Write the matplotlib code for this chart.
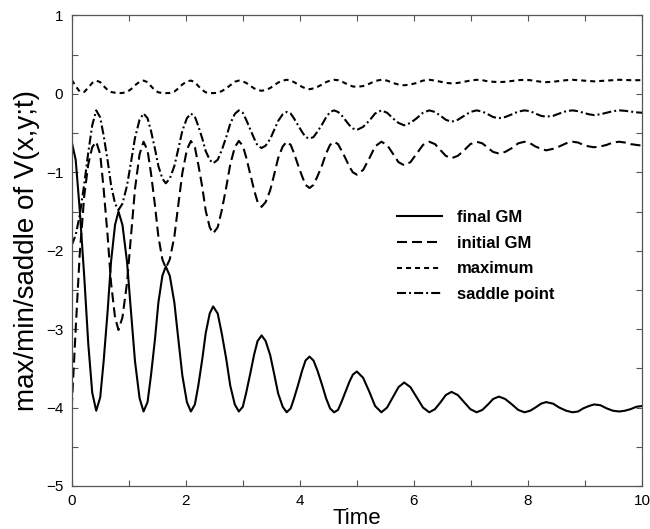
import matplotlib
matplotlib.use("Agg")
import matplotlib.pyplot as plt
from matplotlib.ticker import FixedLocator, FuncFormatter

plt.rcParams['font.family'] = ['Liberation Sans', 'DejaVu Sans']
plt.rcParams['lines.scale_dashes'] = False

time = [0.00, 0.07, 0.14, 0.22, 0.29, 0.36, 0.43,
        0.50, 0.56, 0.63, 0.69, 0.76, 0.82,
        0.89, 0.97, 1.04, 1.11, 1.19, 1.26,
        1.33, 1.39, 1.46, 1.52, 1.59, 1.65,
        1.72, 1.80, 1.87, 1.94, 2.02, 2.09,
        2.16, 2.22, 2.29, 2.35, 2.42, 2.48,
        2.56, 2.63, 2.71, 2.78, 2.86, 2.93,
        3.00, 3.06, 3.13, 3.20, 3.26, 3.33,
        3.40, 3.48, 3.55, 3.62, 3.70, 3.77,
        3.84, 3.90, 3.97, 4.04, 4.10, 4.17,
        4.24, 4.31, 4.39, 4.46, 4.53, 4.60,
        4.67, 4.73, 4.80, 4.87, 4.93, 5.00,
        5.11, 5.22, 5.32, 5.43,
        5.53, 5.63, 5.73, 5.83,
        5.94, 6.05, 6.16, 6.27,
        6.37, 6.47, 6.56, 6.66,
        6.77, 6.88, 6.99, 7.10,
        7.20, 7.30, 7.39, 7.49,
        7.60, 7.72, 7.83, 7.94,
        8.04, 8.13, 8.23, 8.32,
        8.44, 8.55, 8.67, 8.78,
        8.88, 8.97, 9.07, 9.16,
        9.27, 9.38, 9.49, 9.60,
        9.70, 9.80, 9.90, 10.00]

final_gm = [-0.61, -0.84, -1.47, -2.33, -3.18, -3.81, -4.04,
            -3.87, -3.41, -2.77, -2.14, -1.67, -1.50,
            -1.67, -2.14, -2.78, -3.41, -3.88, -4.05,
            -3.93, -3.59, -3.13, -2.66, -2.32, -2.20,
            -2.32, -2.66, -3.13, -3.59, -3.93, -4.05,
            -3.96, -3.72, -3.38, -3.05, -2.80, -2.71,
            -2.80, -3.05, -3.38, -3.72, -3.96, -4.05,
            -3.99, -3.81, -3.57, -3.32, -3.15, -3.08,
            -3.15, -3.33, -3.57, -3.82, -3.99, -4.06,
            -4.01, -3.88, -3.71, -3.53, -3.40, -3.35,
            -3.40, -3.53, -3.71, -3.88, -4.01, -4.06,
            -4.03, -3.93, -3.80, -3.67, -3.58, -3.54,
            -3.62, -3.80, -3.98, -4.06,
            -4.00, -3.87, -3.74, -3.68,
            -3.74, -3.87, -4.00, -4.06,
            -4.02, -3.93, -3.84, -3.80,
            -3.84, -3.93, -4.02, -4.06,
            -4.03, -3.96, -3.89, -3.86,
            -3.89, -3.96, -4.03, -4.06,
            -4.04, -4.00, -3.95, -3.93,
            -3.95, -4.00, -4.04, -4.06,
            -4.05, -4.01, -3.98, -3.96,
            -3.97, -4.01, -4.04, -4.05,
            -4.04, -4.02, -3.99, -3.98]

initial_gm = [-4.00, -3.00, -2.05, -1.30, -0.90, -0.68, -0.61,
              -0.77, -1.21, -1.81, -2.41, -2.85, -3.01,
              -2.85, -2.41, -1.81, -1.21, -0.77, -0.61,
              -0.72, -1.01, -1.42, -1.82, -2.11, -2.22,
              -2.11, -1.82, -1.41, -1.01, -0.71, -0.60,
              -0.68, -0.90, -1.19, -1.49, -1.70, -1.78,
              -1.70, -1.49, -1.19, -0.90, -0.68, -0.60,
              -0.66, -0.81, -1.02, -1.23, -1.38, -1.44,
              -1.38, -1.23, -1.03, -0.82, -0.67, -0.61,
              -0.65, -0.76, -0.91, -1.05, -1.16, -1.20,
              -1.16, -1.05, -0.91, -0.76, -0.65, -0.61,
              -0.64, -0.72, -0.82, -0.93, -1.00, -1.03,
              -0.97, -0.82, -0.67, -0.61,
              -0.65, -0.76, -0.87, -0.91,
              -0.87, -0.76, -0.65, -0.61,
              -0.64, -0.72, -0.79, -0.82,
              -0.79, -0.72, -0.64, -0.61,
              -0.63, -0.69, -0.74, -0.76,
              -0.74, -0.69, -0.63, -0.61,
              -0.63, -0.67, -0.70, -0.72,
              -0.70, -0.67, -0.63, -0.61,
              -0.62, -0.65, -0.67, -0.68,
              -0.67, -0.65, -0.62, -0.61,
              -0.62, -0.64, -0.65, -0.66]

maximum = [0.18, 0.10, 0.03, 0.025, 0.08, 0.14, 0.17,
           0.15, 0.10, 0.05, 0.025, 0.015, 0.01,
           0.012, 0.025, 0.06, 0.11, 0.155, 0.17,
           0.15, 0.10, 0.045, 0.02, 0.012, 0.01,
           0.012, 0.03, 0.07, 0.12, 0.16, 0.17,
           0.15, 0.10, 0.05, 0.02, 0.012, 0.01,
           0.015, 0.035, 0.07, 0.11, 0.155, 0.17,
           0.16, 0.14, 0.105, 0.07, 0.05, 0.04,
           0.05, 0.075, 0.11, 0.145, 0.17, 0.18,
           0.17, 0.15, 0.12, 0.09, 0.07, 0.06,
           0.07, 0.09, 0.12, 0.15, 0.17, 0.18,
           0.175, 0.16, 0.135, 0.11, 0.095, 0.09,
           0.10, 0.13, 0.165, 0.18,
           0.17, 0.14, 0.12, 0.11,
           0.12, 0.14, 0.17, 0.18,
           0.17, 0.155, 0.14, 0.135,
           0.14, 0.155, 0.17, 0.18,
           0.175, 0.16, 0.155, 0.15,
           0.155, 0.165, 0.175, 0.18,
           0.175, 0.165, 0.155, 0.15,
           0.155, 0.165, 0.175, 0.18,
           0.175, 0.17, 0.165, 0.16,
           0.165, 0.17, 0.175, 0.18,
           0.178, 0.175, 0.175, 0.175]

saddle = [-1.93, -1.80, -1.55, -1.15, -0.75, -0.40, -0.21,
          -0.30, -0.53, -0.85, -1.16, -1.40, -1.48,
          -1.40, -1.17, -0.87, -0.56, -0.33, -0.25,
          -0.31, -0.47, -0.70, -0.92, -1.08, -1.14,
          -1.08, -0.92, -0.70, -0.47, -0.31, -0.25,
          -0.29, -0.41, -0.57, -0.73, -0.84, -0.885,
          -0.84, -0.72, -0.55, -0.38, -0.255, -0.21,
          -0.24, -0.33, -0.45, -0.57, -0.66, -0.69,
          -0.66, -0.575, -0.46, -0.345, -0.26, -0.23,
          -0.25, -0.315, -0.40, -0.485, -0.55, -0.57,
          -0.55, -0.48, -0.39, -0.30, -0.23, -0.21,
          -0.23, -0.27, -0.335, -0.40, -0.44, -0.46,
          -0.42, -0.34, -0.25, -0.21,
          -0.24, -0.31, -0.37, -0.40,
          -0.37, -0.31, -0.24, -0.21,
          -0.23, -0.28, -0.33, -0.355,
          -0.33, -0.28, -0.23, -0.21,
          -0.225, -0.26, -0.295, -0.31,
          -0.295, -0.26, -0.225, -0.21,
          -0.22, -0.25, -0.28, -0.29,
          -0.28, -0.25, -0.22, -0.21,
          -0.22, -0.24, -0.26, -0.27,
          -0.26, -0.24, -0.22, -0.21,
          -0.215, -0.225, -0.235, -0.24]

labels = ['final GM', 'initial GM', 'maximum', 'saddle point']
x_ticks = [0, 1, 2, 3, 4, 5, 6, 7, 8, 9, 10]
x_labeled = [0, 2, 4, 6, 8, 10]
y_ticks = [-5, -4.5, -4, -3.5, -3, -2.5, -2, -1.5, -1, -0.5, 0, 0.5, 1]
y_labeled = [-5, -4, -3, -2, -1, 0, 1]

fig = plt.figure(figsize=(6.5, 5.29), dpi=100)
ax = fig.add_axes([0.1103, 0.0813, 0.8774, 0.8894])

lw = 1.5
ax.plot(time, final_gm, color='black', lw=lw, linestyle='-', label=labels[0])
ax.plot(time, initial_gm, color='black', lw=lw, dashes=(7.2, 3.6), label=labels[1])
ax.plot(time, maximum, color='black', lw=lw, dashes=(3.6, 2.9), label=labels[2])
ax.plot(time, saddle, color='black', lw=lw, dashes=(6.5, 2.2, 1.4, 2.2), label=labels[3])

ax.set_xlim(0, 10)
ax.set_ylim(-5, 1)
ax.xaxis.set_major_locator(FixedLocator(x_ticks))
ax.yaxis.set_major_locator(FixedLocator(y_ticks))
ax.xaxis.set_major_formatter(FuncFormatter(
    lambda v, p: (f"{int(round(v))}" if abs(v - round(v)) < 1e-6 and round(v) in x_labeled else "")))
ax.yaxis.set_major_formatter(FuncFormatter(
    lambda v, p: (f"{int(round(v))}".replace('-', '\u2212') if abs(v - round(v)) < 1e-6 and round(v) in y_labeled else "")))

axis_col = '#555555'
for s in ax.spines.values():
    s.set_color(axis_col)
    s.set_linewidth(0.9)
ax.tick_params(direction='in', length=4, width=0.8, color=axis_col,
               top=True, right=True, labelsize=11, pad=6, labelcolor='black')

ax.set_xlabel('Time', fontsize=16)
ax.xaxis.set_label_coords(0.5, -0.046)
ax.set_ylabel('max/min/saddle of V(x,y;t)', fontsize=20)
ax.yaxis.set_label_coords(-0.056, 0.5)

leg = ax.legend(loc='upper left', bbox_to_anchor=(0.57, 0.587), frameon=False,
                borderpad=0, borderaxespad=0, handlelength=2.7, handletextpad=0.9,
                labelspacing=0.65, prop={'weight': 'bold', 'size': 12})

fig.savefig('out.png', dpi=100)
